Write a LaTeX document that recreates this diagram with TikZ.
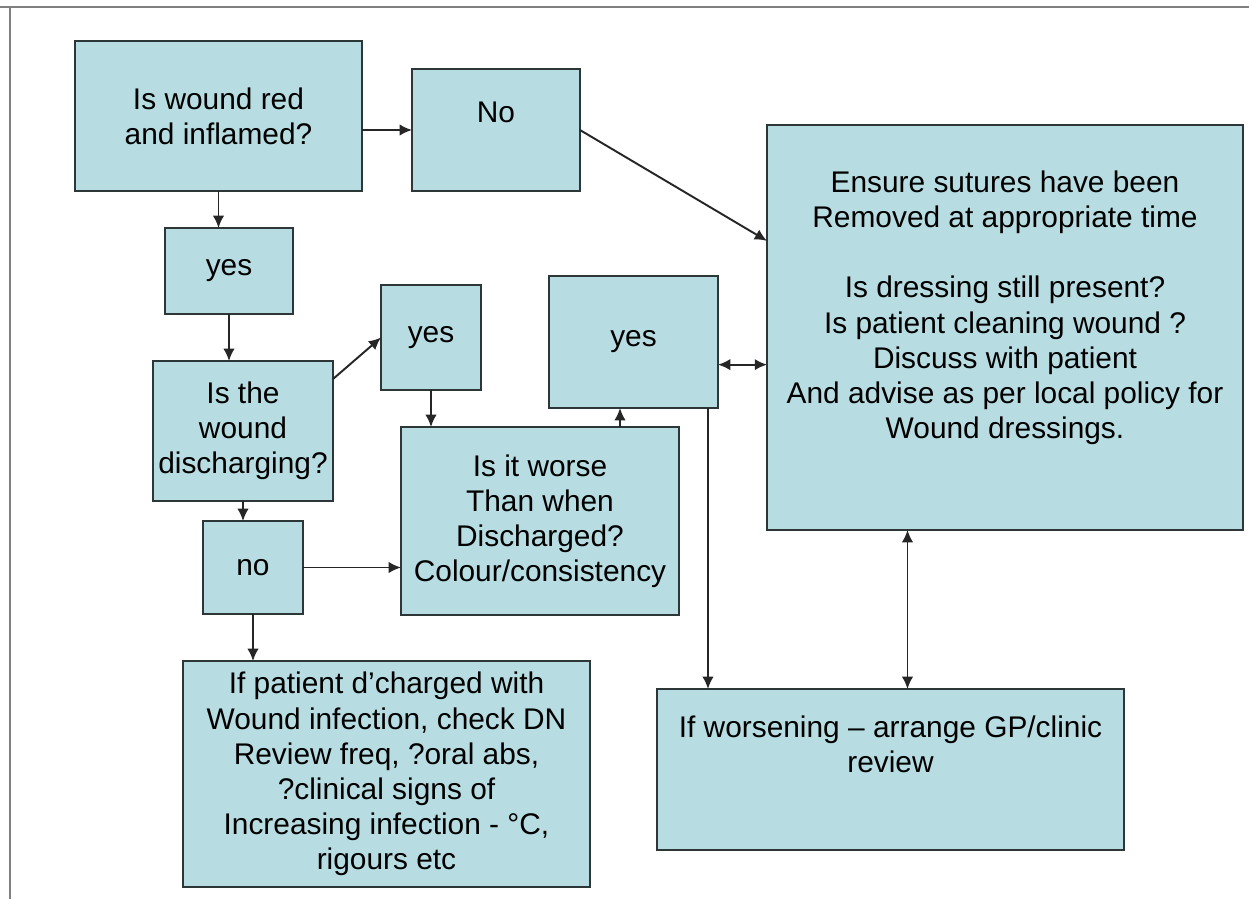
\documentclass[tikz,border=0pt]{standalone}
\usepackage{fontspec}
\setmainfont{Liberation Sans}
\usetikzlibrary{arrows.meta}
\definecolor{boxfill}{RGB}{183,221,226}
\definecolor{boxline}{RGB}{45,55,55}
\begin{document}
\begin{tikzpicture}[x=0.02cm, y=-0.02cm,
  flowbox/.style={draw=boxline, line width=1.5pt, fill=boxfill, align=center,
    inner sep=0pt, outer sep=0pt, font=\fontsize{17}{20}\selectfont},
  >={Latex[length=7pt,width=6.5pt]},
  link/.style={->, line width=1.1pt, black!85}]
\useasboundingbox (0,0) rectangle (1249,899);
\draw[gray, line width=1pt] (0,7) -- (1249,7);
\draw[gray, line width=1pt] (10,7) -- (10,899);

% boxes
\node[flowbox, minimum width=5.74cm, minimum height=3cm] (red) at (218.5,116) {Is wound red\\and inflamed?};
\node[flowbox, minimum width=3.36cm, minimum height=2.44cm] (no1) at (496,130) {No\\~};
\node[flowbox, minimum width=9.52cm, minimum height=8.1cm] (sutures) at (1005,327.5)
  {Ensure sutures have been\\Removed at appropriate time\\~\\Is dressing still present?\\
   Is patient cleaning wound ?\\Discuss with patient\\And advise as per local policy for\\Wound dressings.\\[6pt]~};
\node[flowbox, minimum width=2.56cm, minimum height=1.72cm] (yes1) at (229,271) {yes};
\node[flowbox, minimum width=3.6cm, minimum height=2.8cm] (disch) at (243,431) {Is the\\wound\\discharging?};
\node[flowbox, minimum width=2cm, minimum height=2.1cm] (yes2) at (431,337.5) {yes};
\node[flowbox, minimum width=3.38cm, minimum height=2.64cm] (yes3) at (633.5,342) {yes};
\node[flowbox, minimum width=5.56cm, minimum height=3.76cm] (worse) at (540,521)
  {Is it worse\\Than when\\Discharged?\\Colour/consistency};
\node[flowbox, minimum width=2cm, minimum height=1.86cm] (no2) at (253,567.5) {no};
\node[flowbox, minimum width=8.14cm, minimum height=4.52cm] (infect) at (386.5,774)
  {If patient d'charged with\\Wound infection, check DN\\Review freq, ?oral abs,\\
   ?clinical signs of\\Increasing infection - °C,\\rigours etc};
\node[flowbox, minimum width=9.34cm, minimum height=3.22cm] (gp) at (890.5,769.5)
  {If worsening – arrange GP/clinic\\review\\[9pt]~};

% connectors
\draw[link] (red.east |- no1.west) -- (no1.west);
\draw[link] (red.south) -- (red.south |- yes1.north);
\draw[link] (no1.east) -- (sutures.160);
\draw[link] (yes1.south) -- (yes1.south |- disch.north);
\draw[link] (disch.30) -- (yes2.west);
\draw[link] (yes2.south) -- (yes2.south |- worse.north);
\draw[link] (disch.south) -- (disch.south |- no2.north);
\draw[link] (no2.east) -- (no2.east -| worse.west);
\draw[link] (no2.south) -- (no2.south |- infect.north);
\draw[link] ([xshift=-0.27cm]yes3.south |- worse.north) -- ([xshift=-0.27cm]yes3.south);
\draw[link, <->] (yes3.-15) -- (yes3.-15 -| sutures.west);
\draw[link] ([xshift=-0.2cm]yes3.south east) -- ([xshift=-0.2cm]yes3.south east |- gp.north);
\draw[link, <->] ([xshift=0.34cm]gp.north) -- ([xshift=0.34cm]gp.north |- sutures.south);
\end{tikzpicture}
\end{document}
